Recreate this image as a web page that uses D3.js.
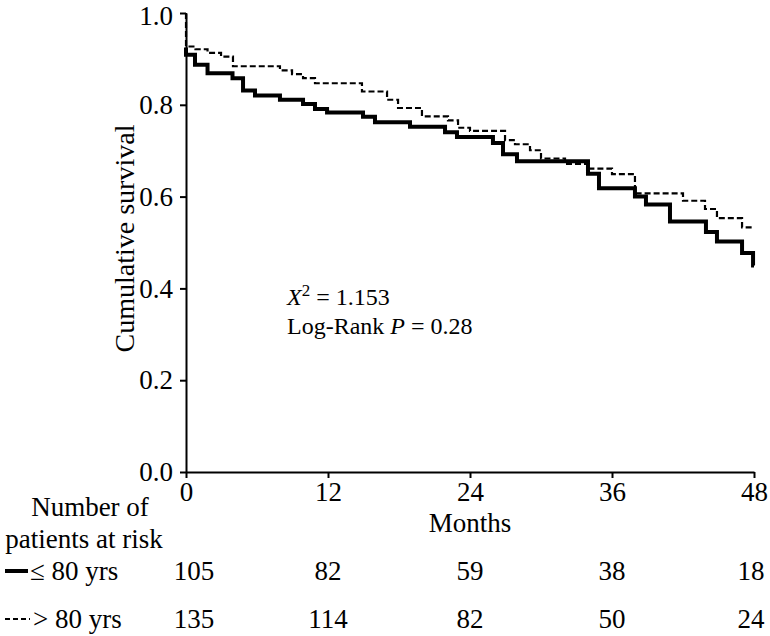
<!DOCTYPE html>
<html>
<head>
<meta charset="utf-8">
<script src="https://cdn.jsdelivr.net/npm/d3@7"></script>
<style>
  html, body { margin: 0; padding: 0; background: #fff; }
  svg { display: block; }
  text { font-family: "Liberation Serif", "Times New Roman", serif; fill: #000; }
</style>
</head>
<body>
<svg id="chart" width="770" height="636"></svg>
<script>
// ---- data ----
const solidTimes = [0, 0, 0.76, 1.82, 3.93, 4.82, 5.83, 7.94, 9.89, 10.9, 11.92, 14.96, 15.97, 18.93, 21.89, 22.9, 25.94, 26.79, 27.97, 33.97, 34.9, 37.94, 38.87, 40.9, 43.94, 44.87, 46.99, 47.92, 48];
const solidSurv  = [0.925, 0.909, 0.887, 0.869, 0.858, 0.831, 0.820, 0.811, 0.802, 0.791, 0.783, 0.774, 0.762, 0.752, 0.740, 0.730, 0.717, 0.692, 0.677, 0.650, 0.618, 0.600, 0.583, 0.546, 0.523, 0.502, 0.477, 0.450, 0.450];

const dashedTimes = [0, 0, 0.8, 1.82, 2.96, 3.97, 7.94, 8.96, 9.89, 10.9, 14.87, 16.99, 17.92, 19.94, 22.14, 22.99, 24.0, 26.96, 27.8, 29.07, 30.0, 32.03, 33.93, 36.0, 37.94, 42.0, 43.86, 44.87, 46.99, 48];
const dashedSurv  = [1.0, 0.927, 0.921, 0.913, 0.905, 0.884, 0.875, 0.867, 0.858, 0.847, 0.829, 0.811, 0.793, 0.775, 0.766, 0.750, 0.743, 0.723, 0.714, 0.701, 0.683, 0.671, 0.661, 0.649, 0.607, 0.591, 0.573, 0.553, 0.533, 0.533];

const xTicks = [0, 12, 24, 36, 48];
const yTicks = [0, 0.2, 0.4, 0.6, 0.8, 1.0];
const riskLow  = [105, 82, 59, 38, 18];   // ≤ 80 yrs
const riskHigh = [135, 114, 82, 50, 24];  // > 80 yrs
const groupLabels = ["\u2264 80 yrs", "> 80 yrs"];

// ---- layout ----
const svg = d3.select("#chart");
const x = d3.scaleLinear().domain([0, 48]).range([186, 754]);
const y = d3.scaleLinear().domain([0, 1]).range([472, 13]);
const FS = 27;

// axes
const yAxis = d3.axisLeft(y).tickValues(yTicks).tickFormat(d3.format(".1f")).tickSizeInner(6).tickSizeOuter(0).tickPadding(7);
const xAxis = d3.axisBottom(x).tickValues(xTicks).tickFormat(d3.format("d")).tickSizeInner(6).tickSizeOuter(0).tickPadding(4);

const gy = svg.append("g").attr("transform", `translate(${x(0)},0)`).call(yAxis);
const gx = svg.append("g").attr("transform", `translate(0,${y(0)})`).call(xAxis);
[gy, gx].forEach(g => {
  g.attr("font-size", FS).attr("font-family", "Liberation Serif");
  g.selectAll("path.domain").attr("stroke", "#000").attr("stroke-width", 2);
  g.selectAll(".tick line").attr("stroke", "#000").attr("stroke-width", 2);
  g.selectAll(".tick text").attr("font-size", FS).attr("fill", "#000");
});
// keep the top label inside the canvas
gy.selectAll(".tick text").filter(d => d === 1).attr("dy", "0.42em");

// curves
const line = d3.line().x(d => x(d[0])).y(d => y(d[1])).curve(d3.curveStepAfter);
const solidData = solidTimes.map((t, i) => [t, solidSurv[i]]);
const dashedData = dashedTimes.map((t, i) => [t, dashedSurv[i]]);

svg.append("path").datum(dashedData).attr("d", line)
  .attr("fill", "none").attr("stroke", "#000").attr("stroke-width", 2.2)
  .attr("stroke-dasharray", "6,3");
svg.append("path").datum(solidData).attr("d", line)
  .attr("fill", "none").attr("stroke", "#000").attr("stroke-width", 4);

// axis titles
svg.append("text").attr("transform", `translate(134,${y(0.5) - 4}) rotate(-90)`)
  .attr("text-anchor", "middle").attr("font-size", 28).text("Cumulative survival");
svg.append("text").attr("x", x(24)).attr("y", 532).attr("text-anchor", "middle")
  .attr("font-size", FS).text("Months");

// annotation
const a1 = svg.append("text").attr("x", 287).attr("y", 305).attr("font-size", 24);
a1.append("tspan").attr("font-style", "italic").text("X");
a1.append("tspan").attr("font-size", 17).attr("dy", -9).text("2");
a1.append("tspan").attr("dy", 9).text(" = 1.153");
const a2 = svg.append("text").attr("x", 287).attr("y", 334).attr("font-size", 24);
a2.append("tspan").text("Log-Rank ");
a2.append("tspan").attr("font-style", "italic").text("P");
a2.append("tspan").text(" = 0.28");

// risk table
svg.append("text").attr("x", 90).attr("y", 516).attr("text-anchor", "middle").attr("font-size", FS).text("Number of");
svg.append("text").attr("x", 84).attr("y", 548).attr("text-anchor", "middle").attr("font-size", FS).text("patients at risk");

const rows = [
  { label: groupLabels[0], values: riskLow,  base: 580, dash: null, sw: 4, lx0: 5, lx1: 28, tx: 30 },
  { label: groupLabels[1], values: riskHigh, base: 628, dash: "5,3", sw: 2, lx0: 5, lx1: 30, tx: 33 }
];
rows.forEach(r => {
  svg.append("line").attr("x1", r.lx0).attr("x2", r.lx1).attr("y1", r.base - 9).attr("y2", r.base - 9)
    .attr("stroke", "#000").attr("stroke-width", r.sw).attr("stroke-dasharray", r.dash);
  svg.append("text").attr("x", r.tx).attr("y", r.base).attr("font-size", FS).text(r.label);
  r.values.forEach((v, i) => {
    const off = i === 0 ? 8 : (i === r.values.length - 1 ? -3 : 0);
    svg.append("text").attr("x", x(xTicks[i]) + off).attr("y", r.base)
      .attr("text-anchor", "middle").attr("font-size", FS).text(v);
  });
});
</script>
</body>
</html>
